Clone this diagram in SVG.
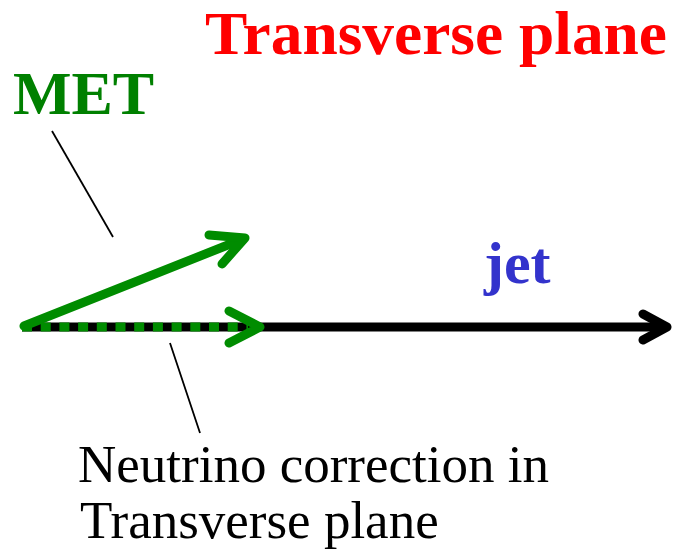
<svg xmlns="http://www.w3.org/2000/svg" width="673" height="555" viewBox="0 0 673 555">
<style>
.bold{font-family:"Liberation Serif","Times New Roman",serif;font-weight:bold}
.reg{font-family:"Liberation Serif","Times New Roman",serif}
.thick{fill:none;stroke-width:9;stroke-linecap:round;stroke-linejoin:round}
.lead{stroke:#000;stroke-width:1.8;fill:none}
</style>
<rect width="673" height="555" fill="#fff"/>
<g id="title"><text class="bold" x="205" y="54" font-size="62" textLength="462" lengthAdjust="spacingAndGlyphs" fill="#ff0000">Transverse plane</text></g>
<g id="met-label"><text class="bold" x="13" y="114" font-size="62" fill="#008000">MET</text></g>
<g id="jet-label"><text class="bold" x="484" y="283" font-size="60" fill="#3333cc">jet</text></g>
<g id="neutrino-label"><text class="reg" font-size="53" fill="#000"><tspan x="78" y="482">Neutrino correction in</tspan><tspan x="80" y="538">Transverse plane</tspan></text></g>
<g id="connectors">
<g id="jet-arrow">
<line x1="22" y1="327" x2="666" y2="327" stroke="#000" stroke-width="9"/>
<polyline class="thick" stroke="#000" points="643,314 667,327 643,340"/>
</g>
<g id="neutrino-arrow">
<line x1="22" y1="327" x2="248" y2="327" stroke="#008c00" stroke-width="9" stroke-dasharray="10 8.7"/>
<polyline class="thick" stroke="#008c00" points="229,311 260,327 229,343"/>
</g>
<g id="met-arrow">
<line x1="24" y1="326" x2="243" y2="239" stroke="#008c00" stroke-width="9" stroke-linecap="round"/>
<polyline class="thick" stroke="#008c00" points="209,235 245,238 222,264"/>
</g>
<line class="lead" x1="52" y1="131" x2="113" y2="237"/>
<line class="lead" x1="170" y1="343" x2="200" y2="433"/>
</g>
</svg>
